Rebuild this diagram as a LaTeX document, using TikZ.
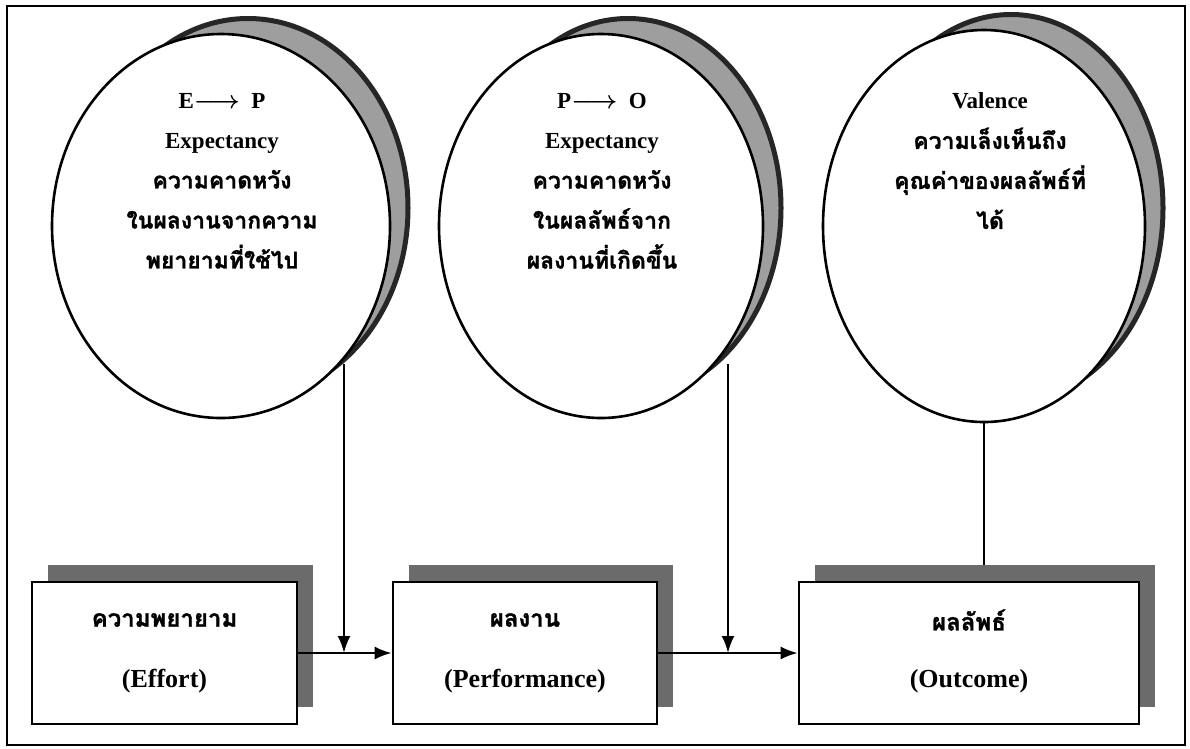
\documentclass[tikz,border=0pt]{standalone}
\usepackage{fontspec}
\setmainfont{Liberation Serif}
\newfontfamily\thai[Script=Thai,BoldFeatures={FakeBold=1.2}]{Loma}
\usetikzlibrary{shapes.geometric,arrows.meta}

\begin{document}
\begin{tikzpicture}[x=1pt,y=-1pt,
  frame/.style={draw,line width=2pt},
  oval/.style={ellipse,draw,line width=2.6pt,fill=white,inner sep=0pt},
  ovalshade/.style={ellipse,fill=black!38,draw=black!85,line width=5pt,inner sep=0pt},
  stage/.style={rectangle,draw,line width=2.6pt,fill=white,inner sep=0pt,
    minimum height=142pt,align=center},
  stageshade/.style={rectangle,fill=black!58,inner sep=0pt,minimum height=142pt},
  ovaltext/.style={align=center,font=\bfseries\fontsize{23}{40}\selectfont},
  th/.style={font=\thai\bfseries\fontsize{24}{24}\selectfont},
  en/.style={font=\bfseries\fontsize{26}{26}\selectfont},
  flow/.style={-{Latex[length=17pt,width=13pt]},line width=2.4pt},
  link/.style={line width=2.4pt}]

\useasboundingbox (0,0) rectangle (1190,748);
\fill[white] (0,0) rectangle (1190,748);

% outer frame
\draw[frame] (7,6) rectangle (1185,745);

% expectancy / valence ovals with crescent shadows
\node[ovalshade,minimum width=320pt,minimum height=379pt] (s1) at (248,208) {};
\node[oval,minimum width=338pt,minimum height=384pt] (e1) at (221,226) {};
\node[ovalshade,minimum width=306pt,minimum height=379pt] (s2) at (628,208) {};
\node[oval,minimum width=324pt,minimum height=384pt] (e2) at (601,226) {};
\node[ovalshade,minimum width=304pt,minimum height=387pt] (s3) at (1011,208) {};
\node[oval,minimum width=322pt,minimum height=392pt] (e3) at (984,226) {};

\node[ovaltext] (t1) at (222,181) {E{\boldmath$\longrightarrow$}\ \ P\\Expectancy\\
  {\thai ความคาดหวัง}\\{\thai ในผลงานจากความ}\\{\thai พยายามที่ใช้ไป}};
\node[ovaltext] (t2) at (602,181) {P{\boldmath$\longrightarrow$}\ \ O\\Expectancy\\
  {\thai ความคาดหวัง}\\{\thai ในผลลัพธ์จาก}\\{\thai ผลงานที่เกิดขึ้น}};
\node[ovaltext] (t3) at (990,161) {Valence\\
  {\thai ความเล็งเห็นถึง}\\{\thai คุณค่าของผลลัพธ์ที่}\\{\thai ได้}};

% stage boxes with offset shadows
\node[stageshade,minimum width=265pt] (b1s) at (180.5,636) {};
\node[stage,minimum width=265pt] (b1) at (164.5,653) {};
\node[stageshade,minimum width=264pt] (b2s) at (541,636) {};
\node[stage,minimum width=264pt] (b2) at (525,653) {};
\node[stageshade,minimum width=340pt] (b3s) at (985,636) {};
\node[stage,minimum width=340pt] (b3) at (969,653) {};

\node[th] (l1a) at (164.5,620) {ความพยายาม};
\node[en] (l1b) at (164.5,681) {(Effort)};
\node[th] (l2a) at (525,620) {ผลงาน};
\node[en] (l2b) at (525,681) {(Performance)};
\node[th] (l3a) at (969,620) {ผลลัพธ์};
\node[en] (l3b) at (969,681) {(Outcome)};

% connectors
\coordinate (v1) at (344,364);
\coordinate (v2) at (728,364);
\draw[flow] (b1.east) -- (b2.west);
\draw[flow] (b2.east) -- (b3.west);
\draw[flow] (v1) -- (v1 |- b1.east);
\draw[flow] (v2) -- (v2 |- b2.east);
\draw[link] (e3.south) -- (e3.south |- b3s.north);
\end{tikzpicture}
\end{document}
